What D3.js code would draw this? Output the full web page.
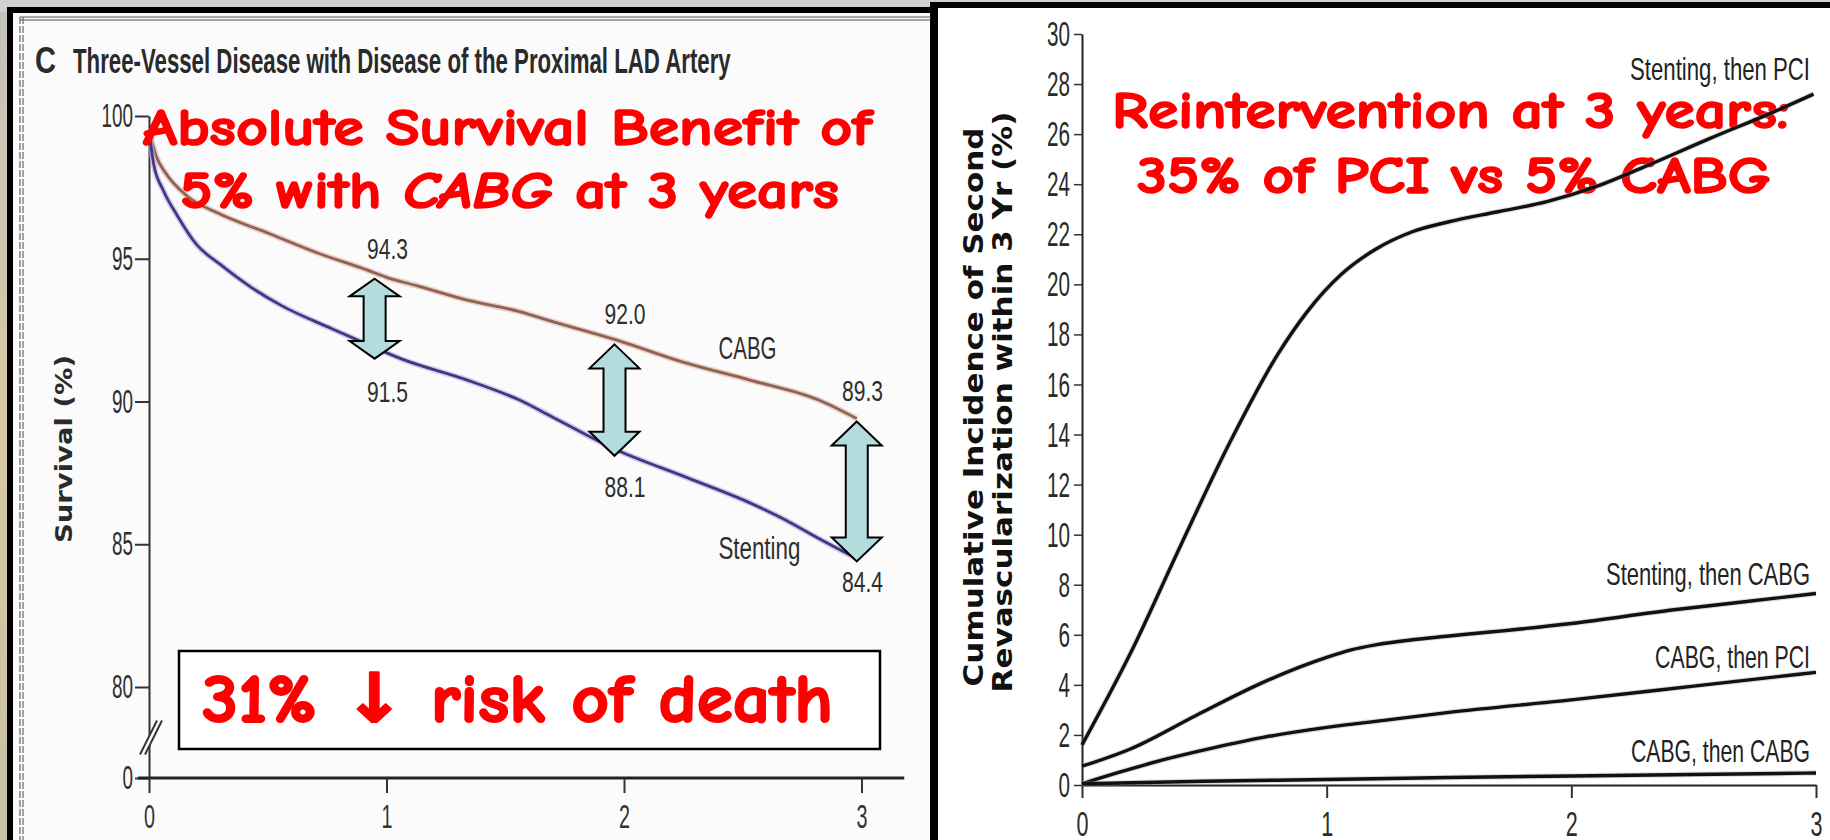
<!DOCTYPE html>
<html><head><meta charset="utf-8">
<script src="https://cdn.jsdelivr.net/npm/d3@7"></script>
<style>html,body{margin:0;padding:0;background:#cfd0d4;overflow:hidden}</style>
</head><body>
<svg id="c" width="1830" height="840"></svg>
<script>
// ---------------- data ----------------
const survivalYearTicks = [0, 1, 2, 3];
const survivalTicks = [0, 80, 85, 90, 95, 100];
const cabgSurvival = [[0,99.5],[0.03,98.6],[0.07,98.0],[0.16,97.2],[0.29,96.6],[0.5,95.9],[0.71,95.2],[0.92,94.6],[1.0,94.35],[1.13,94.05],[1.34,93.55],[1.56,93.15],[1.7,92.8],[1.97,92.15],[2.26,91.35],[2.53,90.75],[2.82,90.05],[2.98,89.4]];
const stentSurvival = [[0,99.5],[0.02,98.3],[0.06,97.4],[0.12,96.5],[0.2,95.5],[0.3,94.8],[0.43,94.0],[0.56,93.35],[0.77,92.55],[0.92,92.0],[1.06,91.5],[1.34,90.75],[1.56,90.05],[1.70,89.45],[1.97,88.3],[2.26,87.35],[2.53,86.45],[2.68,85.85],[2.82,85.2],[2.98,84.5]];
const markerYears = [1, 2, 3];
const cabgMarkerValues = [94.3, 92.0, 89.3];
const stentMarkerValues = [91.5, 88.1, 84.4];
const arrowYears = [0.95, 1.96, 2.98];
const survivalSeriesNames = ["CABG", "Stenting"];
const survivalSeriesAnchors = [[2.52, 91.5], [2.57, 84.5]];

const revascYearTicks = [0, 1, 2, 3];
const revascTicks = [0, 2, 4, 6, 8, 10, 12, 14, 16, 18, 20, 22, 24, 26, 28, 30];
const stentThenPci = [[0,1.6],[0.2,5.3],[0.4,9.5],[0.6,13.6],[0.8,17.2],[0.92,18.9],[1.06,20.4],[1.2,21.4],[1.35,22.1],[1.5,22.5],[1.7,22.9],[1.9,23.3],[2.1,23.9],[2.3,24.7],[2.56,25.8],[2.83,26.9],[2.99,27.6]];
const stentThenCabg = [[0,0.75],[0.2,1.45],[0.47,2.8],[0.74,4.1],[0.9,4.75],[1.0,5.1],[1.1,5.4],[1.2,5.6],[1.35,5.8],[1.5,5.95],[2.0,6.45],[2.42,7.0],[2.69,7.3],[3.0,7.65]];
const cabgThenPci = [[0,0.05],[0.15,0.5],[0.33,1.0],[0.5,1.4],[0.74,1.9],[1.0,2.3],[1.25,2.6],[1.5,2.9],[2.0,3.4],[2.5,3.95],[3.0,4.5]];
const cabgThenCabg = [[0,0.05],[0.5,0.15],[1,0.22],[1.5,0.3],[2,0.36],[2.5,0.42],[3,0.48]];
const revascSeriesNames = ["Stenting, then PCI", "Stenting, then CABG", "CABG, then PCI", "CABG, then CABG"];

// ---------------- helpers ----------------
const svg = d3.select('#c');
const NARROW = "'Liberation Sans', Arial, sans-serif";
const BOLD = "'DejaVu Sans', Verdana, sans-serif";
const COMIC = "'Comic Sans MS', 'Comic Neue', 'DejaVu Sans', sans-serif";
// horizontally condense a text to a target width with a scale transform about its anchor
function fit(sel, w) {
  sel.each(function () {
    const len = this.getComputedTextLength();
    if (!len) return;
    const sx = w / len;
    const x = +(this.getAttribute('x') || 0);
    const prev = this.getAttribute('transform') || '';
    this.setAttribute('transform', `${prev} translate(${x},0) scale(${sx},1) translate(${-x},0)`);
  });
  return sel;
}
function charLen(s) { return [...s].reduce((a, c) => a + (c === '.' ? 0.45 : 1), 0); }
function red(sel) { return sel.attr('font-family', COMIC).attr('font-weight', 'bold').attr('fill', '#ff0000').attr('stroke', '#ff0000').attr('stroke-width', 1.6).attr('stroke-linejoin', 'round'); }

// ---------------- backgrounds / frames ----------------
svg.append('rect').attr('width', 1830).attr('height', 840).attr('fill', '#cfd0d4');
const bg = svg.append('defs').append('linearGradient').attr('id', 'beige').attr('x1', 0).attr('y1', 0).attr('x2', 0).attr('y2', 1);
bg.append('stop').attr('offset', 0).attr('stop-color', '#c6c3bd');
bg.append('stop').attr('offset', 0.5).attr('stop-color', '#d6c9a2');
bg.append('stop').attr('offset', 1).attr('stop-color', '#c9bfa6');
svg.append('rect').attr('x', 0).attr('y', 12).attr('width', 8).attr('height', 828).attr('fill', 'url(#beige)');
svg.append('rect').attr('x', 7).attr('y', 7).attr('width', 933).attr('height', 840).attr('fill', '#000');
svg.append('rect').attr('x', 13).attr('y', 13).attr('width', 918).attr('height', 830).attr('fill', '#fbfbfb');
svg.append('rect').attr('x', 930).attr('y', 2).attr('width', 900).attr('height', 840).attr('fill', '#000');
svg.append('rect').attr('x', 938).attr('y', 8).attr('width', 892).attr('height', 840).attr('fill', '#fff');
[17, 20].forEach(y => svg.append('line').attr('x1', 20).attr('x2', 931).attr('y1', y).attr('y2', y).attr('stroke', '#555').attr('stroke-width', 1.2));
[20, 23].forEach(x => svg.append('line').attr('x1', x).attr('x2', x).attr('y1', 17).attr('y2', 840).attr('stroke', '#666').attr('stroke-width', 1.2).attr('stroke-dasharray', '7,2'));

// ---------------- LEFT: survival ----------------
const xL = d3.scaleLinear().domain([0, 3]).range([149, 861.5]);
const yL = d3.scaleLinear().domain([0, 80, 100]).range([778, 687, 116]);
const gL = svg.append('g');

gL.append('text').attr('x', 35).attr('y', 73).attr('font-family', NARROW).attr('font-size', 37).attr('font-weight', 600).attr('fill', '#2a2a2a').text('C').call(fit, 21);
gL.append('text').attr('x', 73).attr('y', 73).attr('font-family', NARROW).attr('font-size', 36).attr('font-weight', 600).attr('fill', '#2a2a2a')
  .text('Three-Vessel Disease with Disease of the Proximal LAD Artery').call(fit, 658);

const yAxL = gL.append('g').attr('transform', `translate(${xL(0)},0)`)
  .call(d3.axisLeft(yL).tickValues(survivalTicks).tickFormat(d3.format('d')).tickSize(14).tickSizeOuter(0).tickPadding(2));
yAxL.select('.domain').attr('stroke', '#333').attr('stroke-width', 2);
yAxL.selectAll('.tick line').attr('stroke', '#333').attr('stroke-width', 2);
yAxL.selectAll('.tick text').attr('font-family', NARROW).attr('font-size', 33).attr('fill', '#2e2e2e')
  .each(function () { const s = this.textContent; d3.select(this).call(fit, charLen(s) * 10.5); });

const brkY = (yL(0) + yL(80)) / 2 + 7, bx = xL(0);
gL.append('path').attr('d', `M${bx - 9},${brkY + 15} L${bx + 8},${brkY - 19} L${bx + 13},${brkY - 19} L${bx - 4},${brkY + 15} Z`).attr('fill', '#fbfbfb');
[0, 5].forEach(o => gL.append('line').attr('x1', bx - 9 + o).attr('y1', brkY + 15).attr('x2', bx + 8 + o).attr('y2', brkY - 19).attr('stroke', '#333').attr('stroke-width', 2));

gL.append('line').attr('x1', xL(-0.046)).attr('x2', xL(3.18)).attr('y1', yL(0)).attr('y2', yL(0)).attr('stroke', '#222').attr('stroke-width', 3);
const xAxL = gL.append('g').attr('transform', `translate(0,${yL(0)})`)
  .call(d3.axisBottom(xL).tickValues(survivalYearTicks).tickFormat(d3.format('d')).tickSize(15).tickSizeOuter(0));
xAxL.select('.domain').remove();
xAxL.selectAll('.tick line').attr('stroke', '#333').attr('stroke-width', 2);
xAxL.selectAll('.tick text').attr('y', 50).attr('dy', 0).attr('font-family', NARROW).attr('font-size', 34).attr('fill', '#333').call(fit, 11);

gL.append('text').attr('transform', `translate(72,449) rotate(-90)`).attr('text-anchor', 'middle')
  .attr('font-family', BOLD).attr('font-size', 23).attr('font-weight', 'bold').attr('fill', '#2a2a2a').text('Survival (%)').call(fit, 188);

const lineL = d3.line().x(d => xL(d[0])).y(d => yL(d[1])).curve(d3.curveMonotoneX);
gL.append('path').datum(cabgSurvival).attr('d', lineL).attr('fill', 'none').attr('stroke', '#dcb5a8').attr('stroke-width', 6).attr('opacity', 0.6);
gL.append('path').datum(cabgSurvival).attr('d', lineL).attr('fill', 'none').attr('stroke', '#8e6353').attr('stroke-width', 2.8);
gL.append('path').datum(stentSurvival).attr('d', lineL).attr('fill', 'none').attr('stroke', '#cfa6dc').attr('stroke-width', 6).attr('opacity', 0.6);
gL.append('path').datum(stentSurvival).attr('d', lineL).attr('fill', 'none').attr('stroke', '#3a3a86').attr('stroke-width', 2.8);

const stentLabelDy = [43, 41, 31];
markerYears.forEach((t, i) => {
  gL.append('text').attr('x', xL(t) + 1).attr('y', yL(cabgMarkerValues[i]) - 20).attr('text-anchor', 'middle')
    .attr('font-family', NARROW).attr('font-size', 29).attr('fill', '#2e2e2e').text(cabgMarkerValues[i].toFixed(1)).call(fit, 41);
  gL.append('text').attr('x', xL(t) + 1).attr('y', yL(stentMarkerValues[i]) + stentLabelDy[i]).attr('text-anchor', 'middle')
    .attr('font-family', NARROW).attr('font-size', 29).attr('fill', '#2e2e2e').text(stentMarkerValues[i].toFixed(1)).call(fit, 41);
});
survivalSeriesNames.forEach((n, i) => {
  gL.append('text').attr('x', xL(survivalSeriesAnchors[i][0])).attr('y', yL(survivalSeriesAnchors[i][1])).attr('text-anchor', 'middle')
    .attr('font-family', NARROW).attr('font-size', 31).attr('fill', '#2e2e2e').text(n).call(fit, i === 0 ? 58 : 82);
});

function arrowPath(x, y1, y2) {
  const hw = 25, sw = 11, hh = Math.min(24, (y2 - y1) * 0.22);
  return `M${x},${y1} L${x + hw},${y1 + hh} L${x + sw},${y1 + hh} L${x + sw},${y2 - hh} L${x + hw},${y2 - hh} L${x},${y2} L${x - hw},${y2 - hh} L${x - sw},${y2 - hh} L${x - sw},${y1 + hh} L${x - hw},${y1 + hh} Z`;
}
arrowYears.forEach((t, i) => {
  gL.append('path').attr('d', arrowPath(xL(t), yL(cabgMarkerValues[i]), yL(stentMarkerValues[i])))
    .attr('fill', '#b4dcdc').attr('stroke', '#000').attr('stroke-width', 2).attr('stroke-linejoin', 'miter');
});

gL.append('text').attr('x', 143).attr('y', 145).attr('font-size', 52).call(red)
  .text('Absolute Survival Benefit of').call(fit, 729);
const l2 = gL.append('text').attr('x', 180).attr('y', 208).attr('font-size', 52).call(red);
l2.append('tspan').text('5% with ');
l2.append('tspan').attr('font-style', 'italic').text('CABG');
l2.append('tspan').text(' at 3 years');
l2.call(fit, 659);

gL.append('rect').attr('x', 179).attr('y', 651).attr('width', 701).attr('height', 98).attr('fill', '#fff').attr('stroke', '#000').attr('stroke-width', 2.5);
gL.append('text').attr('x', 202).attr('y', 722).attr('font-size', 68).call(red).attr('stroke-width', 2)
  .text('31% \u2193 risk of death').call(fit, 631);

// ---------------- RIGHT: revascularization ----------------
const xR = d3.scaleLinear().domain([0, 3]).range([1082, 1816]);
const yR = d3.scaleLinear().domain([0, 30]).range([785, 34]);
const gR = svg.append('g');

const yAxR = gR.append('g').attr('transform', `translate(${xR(0)},0)`)
  .call(d3.axisLeft(yR).tickValues(revascTicks).tickFormat(d3.format('d')).tickSize(8).tickSizeOuter(0).tickPadding(4));
yAxR.select('.domain').attr('stroke', '#222').attr('stroke-width', 2);
yAxR.selectAll('.tick line').attr('stroke', '#333').attr('stroke-width', 1.5);
yAxR.selectAll('.tick text').attr('font-family', NARROW).attr('font-size', 36).attr('fill', '#2a2a2a')
  .each(function () { const s = this.textContent; d3.select(this).call(fit, charLen(s) * 11.5); });

const xAxR = gR.append('g').attr('transform', `translate(0,${yR(0)})`)
  .call(d3.axisBottom(xR).tickValues(revascYearTicks).tickFormat(d3.format('d')).tickSize(13).tickSizeOuter(0));
xAxR.select('.domain').attr('stroke', '#222').attr('stroke-width', 2);
xAxR.selectAll('.tick line').attr('stroke', '#333').attr('stroke-width', 2);
xAxR.selectAll('.tick text').attr('y', 51).attr('dy', 0).attr('font-family', NARROW).attr('font-size', 36).attr('fill', '#2a2a2a').call(fit, 12);

gR.append('text').attr('transform', `translate(983,407) rotate(-90)`).attr('text-anchor', 'middle')
  .attr('font-family', BOLD).attr('font-size', 26).attr('font-weight', 'bold').attr('fill', '#111')
  .text('Cumulative Incidence of Second').call(fit, 559);
gR.append('text').attr('transform', `translate(1012,402) rotate(-90)`).attr('text-anchor', 'middle')
  .attr('font-family', BOLD).attr('font-size', 26).attr('font-weight', 'bold').attr('fill', '#111')
  .text('Revascularization within 3 Yr (%)').call(fit, 581);

gR.append('text').attr('x', 1112).attr('y', 128).attr('font-size', 52).call(red)
  .text('Reintervention at 3 years:').call(fit, 678);
gR.append('text').attr('x', 1137).attr('y', 193).attr('font-size', 52).call(red)
  .text('35% of PCI vs 5% CABG').call(fit, 634);

const lineR = d3.line().x(d => xR(d[0])).y(d => yR(d[1])).curve(d3.curveMonotoneX);
const revascSeries = [stentThenPci, stentThenCabg, cabgThenPci, cabgThenCabg];
const labelDy = [-14, -8, -4, -11];
const labelW = [180, 204, 155, 179];
revascSeries.forEach((s, i) => {
  gR.append('path').datum(s).attr('d', lineR).attr('fill', 'none').attr('stroke', '#999').attr('stroke-width', 5.5).attr('opacity', 0.35);
  gR.append('path').datum(s).attr('d', lineR).attr('fill', 'none').attr('stroke', '#111').attr('stroke-width', 3.4);
  const last = s[s.length - 1];
  gR.append('text').attr('x', xR(3) - 6).attr('y', yR(last[1]) + labelDy[i]).attr('text-anchor', 'end')
    .attr('font-family', NARROW).attr('font-size', 32).attr('fill', '#222').text(revascSeriesNames[i]).call(fit, labelW[i]);
});
</script>
</body></html>
